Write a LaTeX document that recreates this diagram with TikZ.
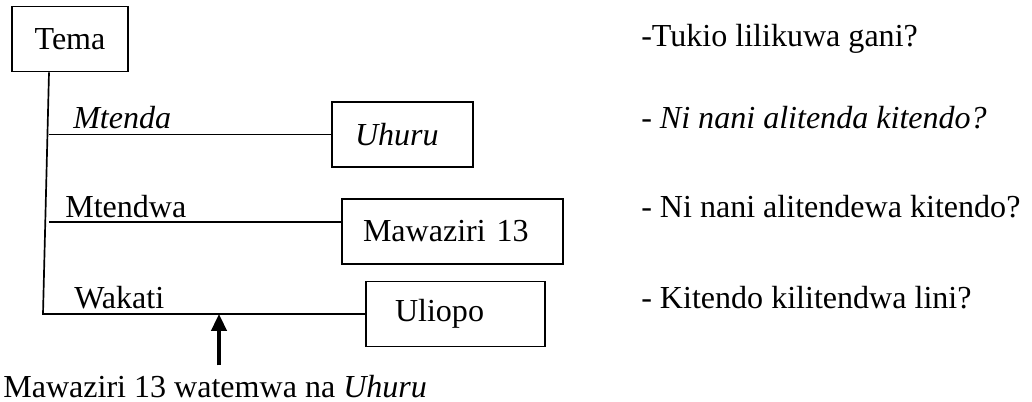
\documentclass[tikz,border=0pt]{standalone}
\usepackage{fontspec}
\setmainfont{Liberation Serif}
\usetikzlibrary{positioning}
\usetikzlibrary{arrows.meta}
\tikzstyle{box} = [rectangle, minimum height=1.625cm, draw=black, line width=1.2pt]
\tikzstyle{answer} = [box, align=left]
\tikzstyle{word} = [inner sep=0pt, anchor=base west]
\tikzstyle{line} = [line width=1.2pt]
\tikzstyle{arrow} = [line width=2.2pt,-{Triangle[width=0.38cm,length=0.42cm]}]

\begin{document}
\begin{tikzpicture}[node distance=1cm, font=\fontsize{22.8}{27}\selectfont]
            \useasboundingbox (0,0) rectangle (25.8,-10.05);
            \node (tema) [box, minimum width=2.9cm] at (1.75,-0.975) {Tema};
            \node (uhuru) [answer, below of=tema, yshift=-1.3875cm, xshift=8.3125cm, text width=2.375cm, inner xsep=0.575cm] {\textit{Uhuru}};
            \node (mawaziri) [answer, below of=uhuru, yshift=-1.425cm, xshift=1.25cm, text width=4.475cm, inner xsep=0.525cm] {Mawaziri 13};
            \node (uliopo) [answer, below of=mawaziri, yshift=-1.0625cm, xshift=0.075cm, text width=3.025cm, inner xsep=0.725cm] {Uliopo};

            \coordinate (trunk) at ([xshift=-0.525cm]tema.south);
            \coordinate (corner) at ([xshift=-0.15cm]uliopo.west -| trunk);
            \coordinate (doer) at ([yshift=0.2375cm]mawaziri.west);
            \coordinate (b1) at (uhuru.west -| trunk);
            \coordinate (b2) at (doer -| trunk);
            \coordinate (hit) at ([xshift=4.4cm]corner);

            \node (mtenda) [word] at ([xshift=0.6cm, yshift=0.1375cm]b1) {\textit{Mtenda}};
            \node (mtendwa) [word] at ([xshift=0.4cm, yshift=0.125cm]b2) {Mtendwa};
            \node (wakati) [word] at ([xshift=0.775cm, yshift=0.15cm]corner) {Wakati};

            \node (q1) [word] at (16.025,-1.175) {-Tukio lilikuwa gani?};
            \node (q2) [word] at (mtenda.base -| q1.base west) {- \textit{Ni nani alitenda kitendo?}};
            \node (q3) [word] at (mtendwa.base -| q1.base west) {- Ni nani alitendewa kitendo?};
            \node (q4) [word] at (wakati.base -| q1.base west) {- Kitendo kilitendwa lini?};

            \node (event) [word, inner ysep=0.225cm] at (0.075,-9.925) {Mawaziri 13 watemwa na \textit{Uhuru}};

            \draw[line] (trunk) -- (corner) -- (uliopo.west);
            \draw[line] (b1) -- (uhuru.west);
            \draw[line] (b2) -- (doer);
            \draw[arrow] (event.north -| hit) -- (hit);
        \end{tikzpicture}
\end{document}
